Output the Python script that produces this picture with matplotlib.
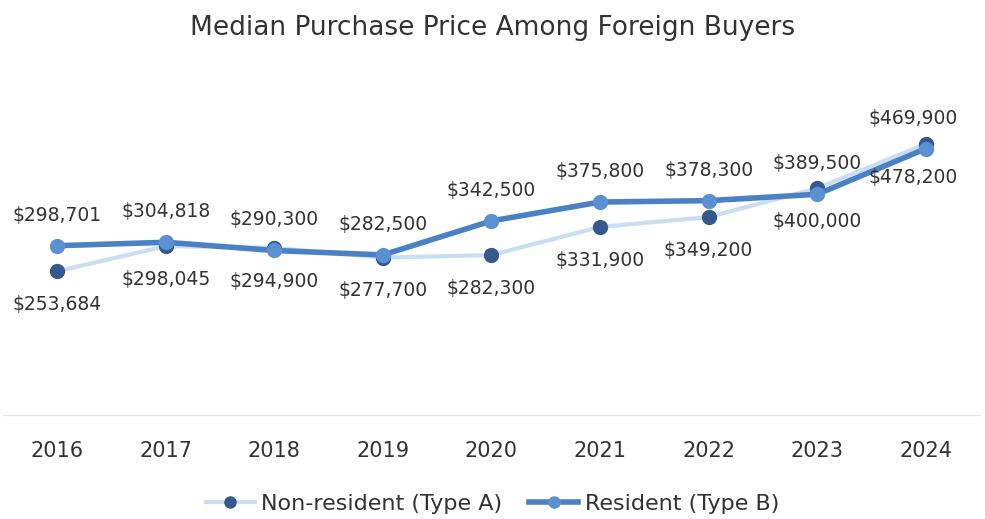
import matplotlib.pyplot as plt

years = ["2016", "2017", "2018", "2019", "2020", "2021", "2022", "2023", "2024"]
nonResident = [253684, 298045, 294900, 277700, 282300, 331900, 349200, 400000, 478200]
resident = [298701, 304818, 290300, 282500, 342500, 375800, 378300, 389500, 469900]

fig = plt.figure(figsize=(9.85, 5.19), dpi=100)
ax = fig.add_axes([3 / 985, 104 / 519, 977 / 985, 340 / 519])

x = list(range(len(years)))
ax.plot(x, nonResident, color="#c9def2", linewidth=3, marker="o", markersize=10,
        markerfacecolor="#35598f", markeredgecolor="#35598f", label="Non-resident (Type A)", zorder=2)
ax.plot(x, resident, color="#4a80c4", linewidth=4, marker="o", markersize=10,
        markerfacecolor="#5b90d2", markeredgecolor="#5b90d2", label="Resident (Type B)", zorder=3)

for i in x:
    dx = -9 if i == len(x) - 1 else 0
    ax.annotate("${:,}".format(resident[i]), (i, resident[i]), xytext=(dx, 22),
                textcoords="offset points", ha="center", va="center", fontsize=13.5, color="#333333")
    ax.annotate("${:,}".format(nonResident[i]), (i, nonResident[i]), xytext=(dx, -24),
                textcoords="offset points", ha="center", va="center", fontsize=13.5, color="#333333")

ax.set_xlim(-0.5, len(years) - 0.5)
ax.set_ylim(0, 600000)
ax.set_xticks(x)
ax.set_xticklabels(years, fontsize=15, color="#333333")
ax.tick_params(axis="x", length=0, pad=19)
ax.set_yticks([])
for s in ["top", "right", "left"]:
    ax.spines[s].set_visible(False)
ax.spines["bottom"].set_color("#e6e6e6")
ax.spines["bottom"].set_linewidth(1)

fig.suptitle("Median Purchase Price Among Foreign Buyers", fontsize=19, color="#333333", y=0.972)
fig.legend(loc="lower center", bbox_to_anchor=(0.5, -0.028), ncol=2, frameon=False, fontsize=16,
           handlelength=2.2, columnspacing=1.2, handletextpad=0.3, labelcolor="#333333",
           markerscale=0.8)

fig.savefig("out.png", dpi=100)
